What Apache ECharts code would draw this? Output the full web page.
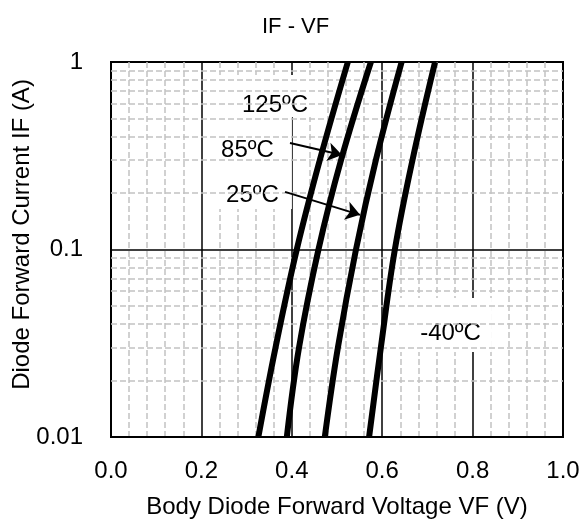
<!DOCTYPE html>
<html>
<head>
<meta charset="utf-8">
<script src="https://cdn.jsdelivr.net/npm/echarts@6/dist/echarts.min.js"></script>
<style>
  html, body { margin: 0; padding: 0; background: #fff; }
  #chart { width: 579px; height: 522px; }
</style>
</head>
<body>
<div id="chart"></div>
<script>
// current levels (A) at which each curve was read
const currents = [0.01, 0.03, 0.1, 0.3, 1]
// forward voltage (V) per temperature
const vf125 = [0.326, 0.364, 0.411, 0.462, 0.524]
const vf85 = [0.389, 0.416, 0.459, 0.509, 0.575]
const vf25 = [0.473, 0.502, 0.542, 0.586, 0.643]
const vfM40 = [0.571, 0.597, 0.628, 0.667, 0.717]

const xTicks = [0, 0.2, 0.4, 0.6, 0.8, 1.0]
const yTicks = [0.01, 0.1, 1]
const yMinor = [0.02, 0.03, 0.04, 0.05, 0.06, 0.07, 0.08, 0.09, 0.2, 0.3, 0.4, 0.5, 0.6, 0.7, 0.8, 0.9]

// temperature labels: [text, V, IF] at the top centre of each white box
const tempLabels = [
  ['125ºC', 0.3507, 0.852],
  ['85ºC', 0.302, 0.509],
  ['25ºC', 0.302, 0.272],
  ['-40ºC', 0.739, 0.0551]
]
// arrows: from [V, IF] to [V, IF]
const arrows = [
  [[0.396, 0.370], [0.511, 0.319]],
  [[0.385, 0.203], [0.551, 0.153]]
]

const FONT = 'Arial, "Liberation Sans", sans-serif'
const labelPads = [
  [18, 14, 0, 25],
  [21, 18, 6, 18],
  [15, 13, 2, 23],
  [23, 11, 7, 22]
]

const curve = (name, vs) => ({
  name,
  type: 'line',
  z: 5,
  data: vs.map((v, i) => [v, currents[i]]),
  smooth: 0.4,
  symbol: 'none',
  lineStyle: { color: '#000', width: 6 }
})

const chart = echarts.init(document.getElementById('chart'), null, { renderer: 'canvas' })

chart.setOption({
  animation: false,
  backgroundColor: '#fff',
  title: {
    text: 'IF - VF',
    left: 257,
    top: 11,
    textStyle: { fontFamily: FONT, fontSize: 22, fontWeight: 'normal', color: '#000' }
  },
  grid: {
    left: 111, right: 16, top: 62, bottom: 85,
    outerBoundsMode: 'none',
    containLabel: false,
    show: true, borderColor: '#000', borderWidth: 2
  },
  xAxis: {
    type: 'value',
    min: xTicks[0], max: xTicks[xTicks.length - 1], interval: 0.2,
    name: 'Body Diode Forward Voltage VF (V)',
    nameLocation: 'middle',
    nameGap: 58,
    nameMoveOverlap: false,
    nameTextStyle: { fontFamily: FONT, fontSize: 24, color: '#000' },
    axisLine: { lineStyle: { color: '#000', width: 2 } },
    axisTick: { show: false },
    axisLabel: {
      margin: 22,
      fontFamily: FONT, fontSize: 24, color: '#000',
      formatter: v => v.toFixed(1)
    },
    splitLine: { show: true, lineStyle: { color: '#000', width: 1.5 } },
    minorTick: { show: false, splitNumber: 5 },
    minorSplitLine: { show: true, lineStyle: { color: '#c2c2c2', width: 1.5, type: [6, 3] } }
  },
  yAxis: {
    type: 'log',
    logBase: 10,
    min: yTicks[0], max: yTicks[yTicks.length - 1],
    name: 'Diode Forward Current IF (A)',
    nameLocation: 'middle',
    nameGap: 77,
    nameMoveOverlap: false,
    nameTextStyle: { fontFamily: FONT, fontSize: 24, color: '#000', padding: [0, 0, 0, 30] },
    axisLine: { lineStyle: { color: '#000', width: 2 } },
    axisTick: { show: false },
    axisLabel: {
      margin: 28,
      fontFamily: FONT, fontSize: 24, color: '#000',
      formatter: v => {
        const t = yTicks.find(k => Math.abs(Math.log10(k) - Math.log10(v)) < 1e-6)
        return t === undefined ? '' : String(t)
      }
    },
    splitLine: { show: true, lineStyle: { color: '#000', width: 1.5 } }
  },
  series: [
    {
      // minor log gridlines
      type: 'line',
      z: 1,
      data: [],
      silent: true,
      markLine: {
        silent: true,
        symbol: 'none',
        label: { show: false },
        lineStyle: { color: '#c2c2c2', width: 1.5, type: [6, 3] },
        data: yMinor.map(v => ({ yAxis: v }))
      }
    },
    {
      // temperature labels with white boxes
      type: 'scatter',
      z: 3,
      symbolSize: 0,
      silent: true,
      itemStyle: { opacity: 1 },
      data: tempLabels.map((t, i) => ({
        value: [t[1], t[2]],
        label: {
          show: true,
          position: 'inside',
          align: 'center',
          verticalAlign: 'top',
          lineHeight: 24,
          formatter: t[0],
          fontFamily: FONT, fontSize: 24, color: '#000',
          backgroundColor: '#fff',
          padding: labelPads[i]
        }
      }))
    },
    {
      type: 'line',
      z: 4,
      data: [],
      markLine: {
        silent: true,
        symbol: ['none', 'arrow'],
        symbolSize: 14,
        label: { show: false },
        lineStyle: { color: '#000', width: 2, type: 'solid' },
        data: arrows.map(a => [{ coord: a[0] }, { coord: a[1] }])
      }
    },
    curve('125ºC', vf125),
    curve('85ºC', vf85),
    curve('25ºC', vf25),
    curve('-40ºC', vfM40)
  ]
})

window.addEventListener('resize', () => chart.resize())
</script>
</body>
</html>
